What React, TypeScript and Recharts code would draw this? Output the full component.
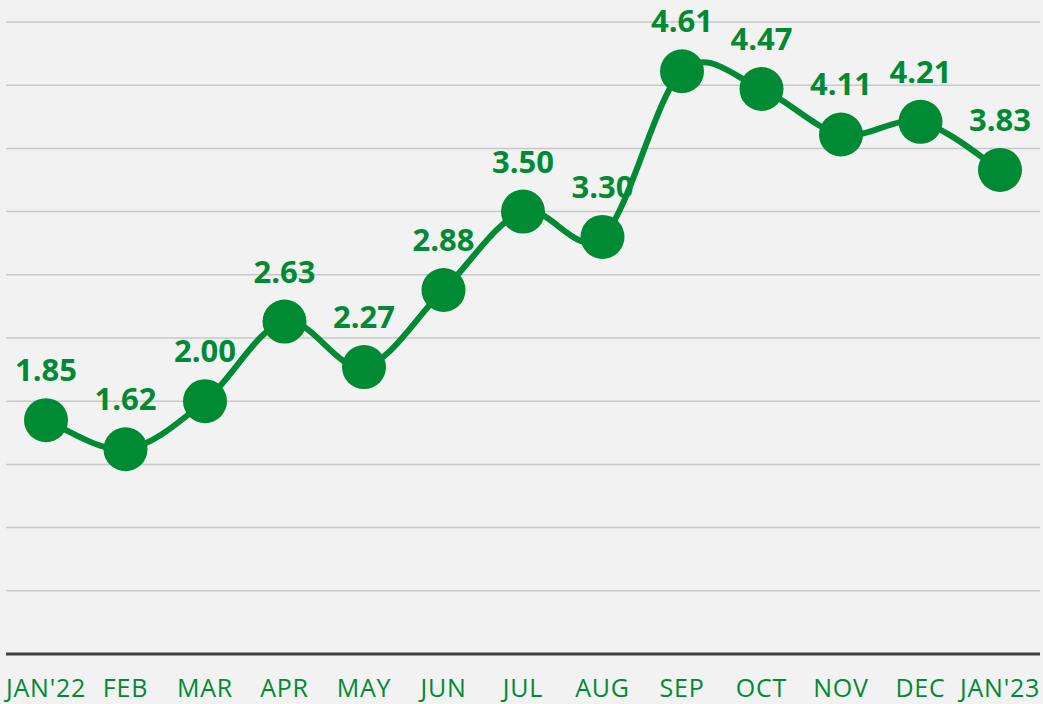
import { LineChart, Line, XAxis, YAxis, CartesianGrid, LabelList } from "recharts"

const months = ["JAN'22", "FEB", "MAR", "APR", "MAY", "JUN", "JUL", "AUG", "SEP", "OCT", "NOV", "DEC", "JAN'23"]
const values = [1.85, 1.62, 2.0, 2.63, 2.27, 2.88, 3.5, 3.3, 4.61, 4.47, 4.11, 4.21, 3.83]
const yTicks = [0, 0.5, 1, 1.5, 2, 2.5, 3, 3.5, 4, 4.5, 5]

const data = months.map((m, i) => ({ month: m, value: values[i] }))

const GREEN = "#008a33"

// smooth curve like Excel's (catmull-rom style bezier)
function smoothCurve(context: any) {
  let pts: [number, number][] = []
  return {
    areaStart() {},
    areaEnd() {},
    lineStart() {
      pts = []
    },
    point(x: number, y: number) {
      pts.push([+x, +y])
    },
    lineEnd() {
      if (!pts.length) return
      context.moveTo(pts[0][0], pts[0][1])
      for (let i = 0; i < pts.length - 1; i++) {
        const p0 = pts[Math.max(i - 1, 0)]
        const p1 = pts[i]
        const p2 = pts[i + 1]
        const p3 = pts[Math.min(i + 2, pts.length - 1)]
        context.bezierCurveTo(
          p1[0] + (p2[0] - p0[0]) / 6,
          p1[1] + (p2[1] - p0[1]) / 6,
          p2[0] - (p3[0] - p1[0]) / 6,
          p2[1] - (p3[1] - p1[1]) / 6,
          p2[0],
          p2[1]
        )
      }
    },
  }
}

function MonthTick({ x, y, payload }: any) {
  return (
    <text x={x} y={y} dy={35} textAnchor="middle" fill={GREEN} fontSize={25} letterSpacing={0.8} fontFamily="Open Sans">
      {payload.value}
    </text>
  )
}

export default function App() {
  return (
    <div style={{ position: "absolute", left: 0, top: 0, width: 1043, height: 704, background: "#f2f2f2" }}>
      <LineChart width={1043} height={704} data={data} margin={{ top: 22, right: 3, bottom: 0, left: 6 }}>
        <CartesianGrid vertical={false} stroke="#c8c8c8" strokeWidth={1.5} />
        <XAxis
          dataKey="month"
          padding={{ left: 40, right: 40 }}
          height={50}
          tickLine={false}
          axisLine={{ stroke: "#404040", strokeWidth: 3 }}
          tick={<MonthTick />}
          interval={0}
        />
        <YAxis hide domain={[0, 5]} ticks={yTicks} />
        <Line
          dataKey="value"
          type={smoothCurve as any}
          stroke={GREEN}
          strokeWidth={6}
          dot={{ r: 22, fill: GREEN, stroke: "none" }}
          activeDot={false}
          isAnimationActive={false}
        >
          <LabelList
            dataKey="value"
            position="top"
            offset={39}
            formatter={(v: any) => Number(v).toFixed(2)}
            fill={GREEN}
            fontSize={31}
            fontWeight={700}
            fontFamily="Open Sans"
          />
        </Line>
      </LineChart>
    </div>
  )
}
